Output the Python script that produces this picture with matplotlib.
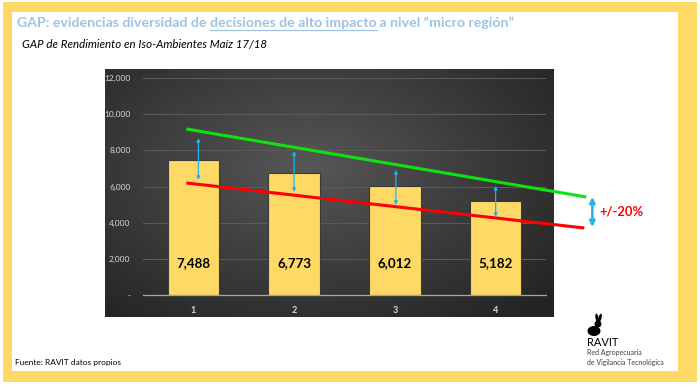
import numpy as np
import matplotlib
matplotlib.use("Agg")
import matplotlib.pyplot as plt
from matplotlib.patches import Rectangle, Ellipse

plt.rcParams['font.family'] = ['Lato', 'DejaVu Sans']

# ---- data ----
categories = [1, 2, 3, 4]
yields = [7488, 6773, 6012, 5182]
value_labels = ['7,488', '6,773', '6,012', '5,182']

# +20% / -20% guide lines (start and end points)
upper_x = [0.93, 4.90]
upper_y = [9180, 5420]
lower_x = [0.93, 4.88]
lower_y = [6195, 3705]

# small double arrows over each bar
arrow_x = [1.05, 2.0, 3.01, 4.0]
arrow_top = [8680, 7965, 6915, 6030]
arrow_bottom = [6360, 5700, 4980, 4315]

# big +/-20% arrow on the right
band_x = 4.96
band_top = 5420
band_bottom = 3760

yticks = [0, 2000, 4000, 6000, 8000, 10000, 12000]
ytick_labels = ['-', '2,000', '4,000', '6,000', '8,000', '10,000', '12,000']

W, H = 700, 389
fig = plt.figure(figsize=(7, 3.89), dpi=100)

# ---- slide background in pixel coordinates ----
bg = fig.add_axes([0, 0, 1, 1])
bg.set_xlim(0, W)
bg.set_ylim(H, 0)
bg.axis('off')
bg.add_patch(Rectangle((3, 2), 694, 380, facecolor='#ffd966', edgecolor='none'))
bg.add_patch(Rectangle((12, 12), 666, 359, facecolor='white', edgecolor='none'))

title_color = '#9dc3e6'
tsize = 10.2
t1 = bg.text(17, 23, 'GAP: evidencias diversidad de ', color=title_color,
             fontsize=tsize, fontweight='bold', va='center', ha='left')
fig.canvas.draw()
r = fig.canvas.get_renderer()
inv = bg.transData.inverted()
bb = t1.get_window_extent(r)
x2 = inv.transform((bb.x1, 0))[0]
t2 = bg.text(x2, 23, 'decisiones de alto impacto', color=title_color,
             fontsize=tsize, fontweight='bold', va='center', ha='left')
bb2 = t2.get_window_extent(r)
x3 = inv.transform((bb2.x1, 0))[0]
bg.plot([x2, x3], [30, 30], color=title_color, lw=0.9)
bg.text(x3, 23, ' a nivel \u201cmicro regi\u00f3n\u201d', color=title_color,
        fontsize=tsize, fontweight='bold', va='center', ha='left')

bg.text(22, 44, 'GAP de Rendimiento en Iso-Ambientes Ma\u00edz 17/18', color='black',
        fontsize=8.3, fontstyle='italic', va='center', ha='left')
bg.text(15, 362, 'Fuente: RAVIT datos propios', color='black',
        fontsize=6, va='center', ha='left')

# RAVIT logo
bg.add_patch(Ellipse((594, 331), 13, 10, facecolor='black'))
bg.add_patch(Ellipse((598, 324), 7, 7, facecolor='black'))
bg.add_patch(Ellipse((597, 318), 3, 9, angle=-10, facecolor='black'))
bg.add_patch(Ellipse((600, 318), 3, 9, angle=15, facecolor='black'))
bg.text(587, 343, 'RAVIT', color='black', fontsize=8, va='center', ha='left')
bg.text(587, 353, 'Red Agropecuaria', color='#404040', fontsize=5, va='center', ha='left')
bg.text(587, 362, 'de Vigilancia Tecnol\u00f3gica', color='#404040', fontsize=5,
        va='center', ha='left')

# ---- dark chart panel with radial gradient ----
panel = fig.add_axes([105 / W, 1 - 317 / H, 449 / W, 248 / H])
gx, gy = np.meshgrid(np.linspace(-1, 1, 300), np.linspace(-1, 1, 200))
dist = np.sqrt((gx + 0.1) ** 2 + ((gy + 0.2) * 0.9) ** 2)
shade = np.clip(0.34 - 0.14 * dist, 0.14, 0.34)
panel.imshow(np.dstack([shade, shade, shade]), aspect='auto', extent=[0, 1, 0, 1])
panel.set_xlim(0, 1)
panel.set_ylim(0, 1)
panel.axis('off')

# ---- plot ----
ax = fig.add_axes([143 / W, 1 - 295 / H, 403 / W, 217 / H])
ax.patch.set_alpha(0)
ax.set_xlim(0.5, 4.5)
ax.set_ylim(0, 12000)
for s in ['top', 'right', 'left']:
    ax.spines[s].set_visible(False)
ax.spines['bottom'].set_color('#a6a6a6')
ax.spines['bottom'].set_linewidth(0.9)
ax.set_yticks(yticks)
ax.set_yticklabels(ytick_labels, color='#d9d9d9', fontsize=6)
ax.set_xticks(categories)
ax.set_xticklabels([str(c) for c in categories], color='#d9d9d9', fontsize=6.5,
                   fontweight='bold')
ax.tick_params(length=0, pad=9)
ax.tick_params(axis='x', pad=8)
ax.grid(axis='y', color='#5a5a5a', lw=0.8)
ax.set_axisbelow(True)

ax.bar(categories, yields, width=0.51, color='#ffd966', edgecolor='#3a3a3a',
       linewidth=0.8, zorder=2)
for c, lab in zip(categories, value_labels):
    ax.text(c, 1750, lab, ha='center', va='center', fontsize=9.6, fontweight='bold',
            color='black', zorder=4)

ax.plot(upper_x, upper_y, color='#11e011', lw=2.2, clip_on=False, zorder=3,
        solid_capstyle='butt')
ax.plot(lower_x, lower_y, color='#ff0000', lw=2.2, clip_on=False, zorder=3,
        solid_capstyle='butt')

for xa, yt, yb in zip(arrow_x, arrow_top, arrow_bottom):
    ax.annotate('', xy=(xa, yt), xytext=(xa, yb),
                arrowprops=dict(arrowstyle='<|-|>', color='#1fb4ea', lw=0.9,
                                mutation_scale=5, shrinkA=0, shrinkB=0), zorder=4)

ax.annotate('', xy=(band_x, band_top), xytext=(band_x, band_bottom),
            arrowprops=dict(arrowstyle='<|-|>', color='#1fb4ea', lw=1.8,
                            mutation_scale=8, shrinkA=0, shrinkB=0),
            annotation_clip=False)
ax.text(band_x + 0.07, (band_top + band_bottom) / 2, '+/-20%', color='#ff0000',
        fontsize=9.3, fontweight='bold', ha='left', va='center', clip_on=False)

fig.savefig('out.png', dpi=100)
